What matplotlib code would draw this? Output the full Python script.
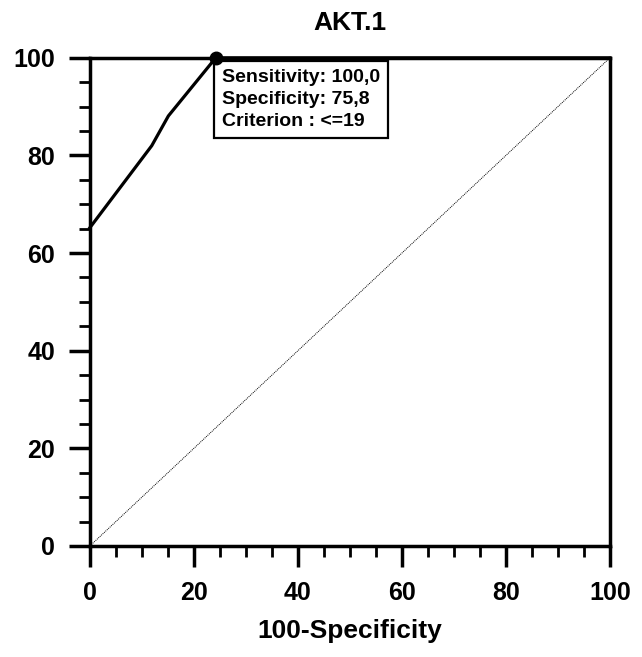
import matplotlib
matplotlib.use("Agg")
import matplotlib.pyplot as plt
from matplotlib.ticker import MultipleLocator

plt.rcParams["font.family"] = ["Liberation Sans", "DejaVu Sans"]

# ROC curve points (100-Specificity, Sensitivity)
fpr = [0, 11.9, 15.1, 24.2, 100]
tpr = [65.2, 82.0, 88.1, 100, 100]
cut_x, cut_y = 24.2, 100.0
box_lines = ["Sensitivity: 100,0", "Specificity: 75,8", "Criterion : <=19"]

fig = plt.figure(figsize=(6.42, 6.57), dpi=100)
ax = fig.add_axes([0.140, 0.169, 0.810, 0.743])

ax.plot([0, 100], [0, 100], color="black", linestyle=(0, (1, 1)), linewidth=0.7)
ax.plot(fpr, tpr, color="black", linewidth=2.3, clip_on=False, zorder=3)
ax.plot([cut_x], [cut_y], "o", color="black", markersize=9, clip_on=False, zorder=4)

ax.text(cut_x + 1.2, cut_y - 2.2, "\n".join(box_lines), fontsize=14, fontweight="bold",
        va="top", ha="left", linespacing=1.42,
        bbox=dict(boxstyle="square,pad=0.4", facecolor="white", edgecolor="black", linewidth=1.6))

ax.set_xlim(0, 100)
ax.set_ylim(0, 100)
ax.xaxis.set_major_locator(MultipleLocator(20))
ax.yaxis.set_major_locator(MultipleLocator(20))
ax.xaxis.set_minor_locator(MultipleLocator(5))
ax.yaxis.set_minor_locator(MultipleLocator(5))
ax.tick_params(which="major", direction="out", length=15, width=2.5, labelsize=18, pad=10)
ax.tick_params(which="minor", direction="out", length=8, width=2)
for lab in ax.get_xticklabels() + ax.get_yticklabels():
    lab.set_fontweight("bold")

for side in ["left", "bottom", "top", "right"]:
    ax.spines[side].set_linewidth(2.5)

ax.set_xlabel("100-Specificity", fontsize=19, fontweight="bold", labelpad=10)
ax.set_title("AKT.1", fontsize=19, fontweight="bold", pad=20)

fig.savefig("out.png", dpi=100, facecolor="white")
